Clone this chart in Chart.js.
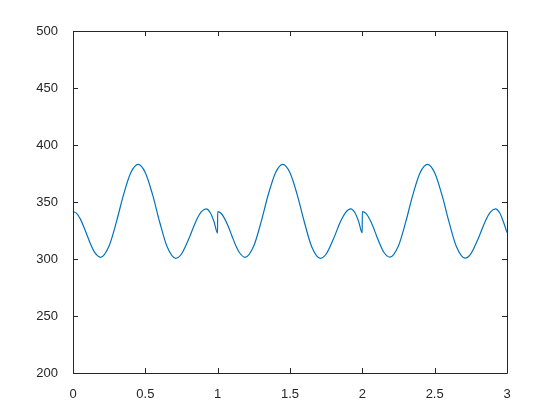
<!DOCTYPE html>
<html>
<head>
<meta charset="utf-8">
<script src="https://cdn.jsdelivr.net/npm/chart.js@4"></script>
<style>
  body { margin: 0; background: #fff; }
  #wrap { width: 560px; height: 420px; }
</style>
</head>
<body>
<div id="wrap"><canvas id="waveChart" width="560" height="420"></canvas></div>
<script>
// values (x, y)
const xs = [
  0, 0.025, 0.05, 0.075, 0.1, 0.125, 0.15, 0.19, 0.25, 0.3, 0.35, 0.4, 0.45, 0.5, 0.55, 0.6, 0.65, 0.71, 0.75, 0.8, 0.85, 0.885, 0.92, 0.95, 0.975, 0.999,
  1, 1.025, 1.05, 1.075, 1.1, 1.125, 1.15, 1.19, 1.25, 1.3, 1.35, 1.4, 1.45, 1.5, 1.55, 1.6, 1.65, 1.71, 1.75, 1.8, 1.85, 1.885, 1.92, 1.95, 1.975, 1.999,
  2, 2.025, 2.05, 2.075, 2.1, 2.125, 2.15, 2.19, 2.25, 2.3, 2.35, 2.4, 2.45, 2.5, 2.55, 2.6, 2.65, 2.71, 2.75, 2.8, 2.85, 2.885, 2.92, 2.95, 2.975, 3
];
const ys = [
  341.7, 340.0, 335.2, 328.1, 319.9, 312.0, 305.8, 301.5, 311.7, 332.5, 356.7, 375.8, 383.0, 375.7, 356.4, 332.0, 310.9, 300.6, 304.4, 317.5, 333.2, 341.1, 344.0, 340.4, 332.7, 322.7,
  341.5, 339.9, 335.0, 328.0, 319.8, 311.9, 305.7, 301.5, 311.6, 332.4, 356.6, 375.7, 383.0, 375.6, 356.3, 332.0, 310.8, 300.6, 304.4, 317.5, 333.1, 341.0, 344.0, 340.3, 332.6, 322.8,
  341.5, 340.0, 335.1, 328.1, 319.8, 312.0, 305.7, 301.6, 311.7, 332.5, 356.7, 375.8, 383.0, 375.7, 356.4, 332.1, 310.9, 300.7, 304.5, 317.6, 333.2, 341.1, 344.0, 340.4, 332.7, 323.2
];
const xTicks = [0, 0.5, 1, 1.5, 2, 2.5, 3];
const xTickLabels = ['0', '0.5', '1', '1.5', '2', '2.5', '3'];
const yTicks = [200, 250, 300, 350, 400, 450, 500];

const axisColor = '#262626';

// box and inward ticks, MATLAB style
const boxPlugin = {
  id: 'box',
  afterDraw(chart) {
    const { ctx, chartArea: a, scales } = chart;
    ctx.save();
    ctx.strokeStyle = axisColor;
    ctx.lineWidth = 1;
    ctx.beginPath();
    ctx.rect(a.left + 0.5, a.top + 0.5, a.right - a.left, a.bottom - a.top);
    xTicks.forEach(v => {
      const px = Math.round(scales.x.getPixelForValue(v)) + 0.5;
      ctx.moveTo(px, a.bottom); ctx.lineTo(px, a.bottom - 5);
      ctx.moveTo(px, a.top); ctx.lineTo(px, a.top + 5);
    });
    yTicks.forEach(v => {
      const py = Math.round(scales.y.getPixelForValue(v)) + 0.5;
      ctx.moveTo(a.left, py); ctx.lineTo(a.left + 5, py);
      ctx.moveTo(a.right, py); ctx.lineTo(a.right - 5, py);
    });
    ctx.stroke();
    ctx.restore();
  }
};

new Chart(document.getElementById('waveChart'), {
  type: 'line',
  data: {
    datasets: [{
      data: xs.map((x, i) => ({ x: x, y: ys[i] })),
      borderColor: '#0072BD',
      borderWidth: 1.2,
      pointRadius: 0,
      cubicInterpolationMode: 'monotone',
      fill: false
    }]
  },
  options: {
    responsive: false,
    animation: false,
    layout: { padding: { left: 0, right: 53, top: 31, bottom: 0 } },
    plugins: { legend: { display: false }, tooltip: { enabled: false } },
    scales: {
      x: {
        type: 'linear',
        min: 0,
        max: 3,
        afterBuildTicks: s => { s.ticks = xTicks.map(v => ({ value: v })); },
        afterFit: s => { s.height = 47; },
        grid: { display: false },
        border: { display: false },
        ticks: {
          color: axisColor,
          padding: 6,
          maxRotation: 0,
          font: { family: 'Liberation Sans, Arial, sans-serif', size: 13 },
          callback: (v, i) => xTickLabels[i]
        }
      },
      y: {
        min: 200,
        max: 500,
        afterBuildTicks: s => { s.ticks = yTicks.map(v => ({ value: v })); },
        afterFit: s => { s.width = 73; },
        grid: { display: false },
        border: { display: false },
        ticks: { color: axisColor, padding: 7, font: { family: 'Liberation Sans, Arial, sans-serif', size: 13 } }
      }
    }
  },
  plugins: [boxPlugin]
});
</script>
</body>
</html>
